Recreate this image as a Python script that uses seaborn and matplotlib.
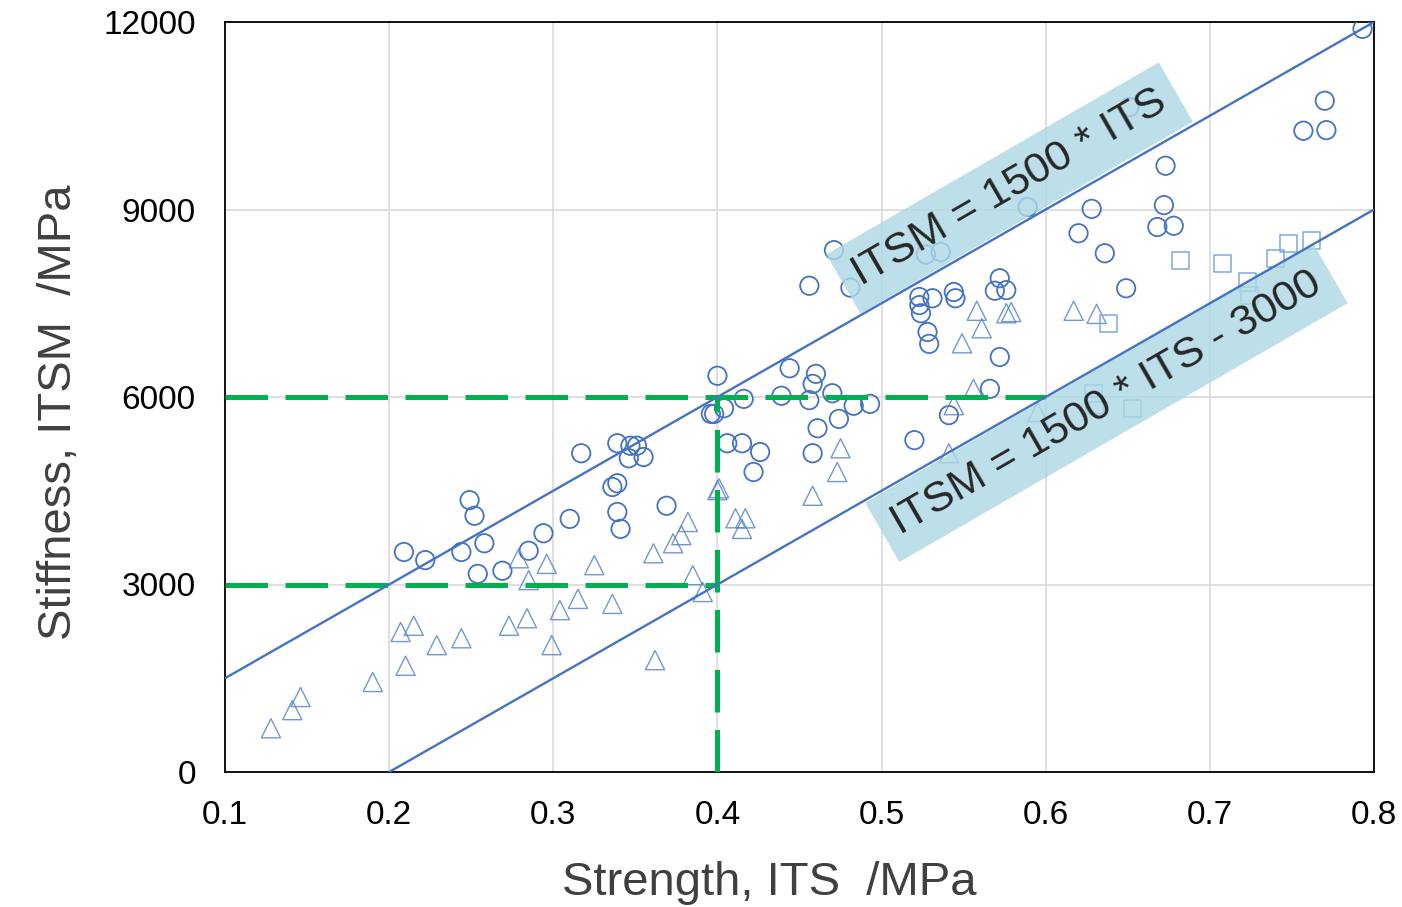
import numpy as np
import pandas as pd
import matplotlib
matplotlib.use("Agg")
import matplotlib.pyplot as plt
import seaborn as sns

# ---- data ----
circle_x = [0.209, 0.222, 0.244, 0.249, 0.252, 0.254, 0.258, 0.269, 0.285, 0.294,
            0.310, 0.317, 0.336, 0.339, 0.339, 0.339, 0.341, 0.346, 0.347, 0.351,
            0.355, 0.369, 0.396, 0.398, 0.400, 0.404, 0.406, 0.415, 0.416, 0.422,
            0.426, 0.439, 0.444, 0.456, 0.456, 0.458, 0.458, 0.460, 0.461, 0.470,
            0.471, 0.474, 0.481, 0.483, 0.493, 0.520, 0.523, 0.523, 0.524, 0.527,
            0.528, 0.529, 0.531, 0.536, 0.541, 0.544, 0.545, 0.566, 0.569, 0.572,
            0.572, 0.576, 0.589, 0.620, 0.628, 0.636, 0.649, 0.651, 0.668, 0.672,
            0.673, 0.678, 0.757, 0.770, 0.771, 0.793]
circle_y = [3520, 3390, 3520, 4350, 4100, 3170, 3660, 3220, 3540, 3820,
            4050, 5100, 4560, 4620, 4160, 5260, 3890, 5020, 5220, 5220,
            5040, 4260, 5730, 5730, 6340, 5820, 5260, 5260, 5970, 4800,
            5120, 6020, 6460, 7780, 5950, 6210, 5100, 6370, 5500, 6060,
            8350, 5650, 7750, 5860, 5890, 5310, 7600, 7470, 7340, 8280,
            7040, 6850, 7580, 8320, 5710, 7680, 7580, 6130, 7700, 7900,
            6640, 7710, 9040, 8620, 9010, 8300, 7740, 10640, 8720, 9070,
            9700, 8740, 10260, 10740, 10270, 11890]

tri_x = [0.128, 0.141, 0.146, 0.190, 0.207, 0.215, 0.210, 0.229, 0.244, 0.273,
         0.284, 0.299, 0.304, 0.315, 0.336, 0.279, 0.296, 0.285, 0.325, 0.361,
         0.373, 0.378, 0.382, 0.385, 0.391, 0.362, 0.400, 0.401, 0.411, 0.417,
         0.415, 0.458, 0.473, 0.475, 0.558, 0.561, 0.549, 0.576, 0.579, 0.617,
         0.631, 0.556, 0.544, 0.595, 0.541]
tri_y = [700, 990, 1200, 1440, 2240, 2340, 1700, 2030, 2140, 2340,
         2460, 2030, 2590, 2770, 2690, 3420, 3330, 3070, 3310, 3500,
         3660, 3790, 4000, 3150, 2880, 1790, 4510, 4540, 4060, 4060,
         3890, 4420, 4800, 5180, 7380, 7100, 6860, 7340, 7360, 7380,
         7330, 6130, 5870, 5760, 5100]

sq_x = [0.682, 0.708, 0.740, 0.748, 0.762, 0.723, 0.724, 0.638, 0.629, 0.630, 0.653]
sq_y = [8180, 8140, 8220, 8460, 8500, 7840, 7620, 7180, 6060, 5870, 5820]

upper_x = [0.1, 0.8]
upper_y = [1500, 12000]
lower_x = [0.2, 0.8]
lower_y = [0, 9000]

guide_h6_x = [0.1, 0.6]
guide_h6_y = [6000, 6000]
guide_h3_x = [0.1, 0.4]
guide_h3_y = [3000, 3000]
guide_v_x = [0.4, 0.4]
guide_v_y = [0, 6000]

label_upper = 'ITSM = 1500 * ITS'
label_lower = 'ITSM = 1500 * ITS - 3000'

x_ticks = [0.1, 0.2, 0.3, 0.4, 0.5, 0.6, 0.7, 0.8]
y_ticks = [0, 3000, 6000, 9000, 12000]

# ---- style ----
sns.set_theme(style="whitegrid")
plt.rcParams['font.family'] = ['Liberation Sans', 'DejaVu Sans']

fig = plt.figure(figsize=(14.02, 9.07), dpi=100)
ax = fig.add_axes([225/1402, 1-772/907, (1374-225)/1402, (772-22)/907])

blue = '#4472C4'
sns.scatterplot(x=circle_x, y=circle_y, ax=ax, marker='o', s=175,
                facecolor='none', edgecolor=blue, linewidth=1.3, zorder=3)
sns.scatterplot(x=tri_x, y=tri_y, ax=ax, marker='^', s=190,
                facecolor='none', edgecolor='#5B86C8', linewidth=1.0, alpha=0.85, zorder=3)
sns.scatterplot(x=sq_x, y=sq_y, ax=ax, marker='s', s=150,
                facecolor='none', edgecolor='#7AAADC', linewidth=1.1, zorder=3)

sns.lineplot(x=upper_x, y=upper_y, ax=ax, color=blue, linewidth=1.7,
             estimator=None, sort=False, zorder=6)
sns.lineplot(x=lower_x, y=lower_y, ax=ax, color=blue, linewidth=1.7,
             estimator=None, sort=False, zorder=6)

green = '#00B050'
for gx, gy in [(guide_h6_x, guide_h6_y), (guide_h3_x, guide_h3_y), (guide_v_x, guide_v_y)]:
    sns.lineplot(x=gx, y=gy, ax=ax, color=green, linewidth=3.6,
                 estimator=None, sort=False, zorder=4)
    ax.lines[-1].set_dashes((8.5, 3.5))

box = dict(boxstyle='square,pad=0.33', fc='#ADD8E6', ec='none', alpha=0.82)
ax.text(0.578, 9344, label_upper, rotation=30, rotation_mode='anchor',
        ha='center', va='center', fontsize=31, color='#262626', bbox=box, zorder=5)
ax.text(0.637, 5904, label_lower, rotation=30, rotation_mode='anchor',
        ha='center', va='center', fontsize=31, color='#262626', bbox=box, zorder=5)

ax.set_xlim(0.1, 0.8)
ax.set_ylim(0, 12000)
ax.set_xticks(x_ticks)
ax.set_xticklabels([f'{t:g}' for t in x_ticks])
ax.set_yticks(y_ticks)
ax.set_yticklabels([str(t) for t in y_ticks])
ax.tick_params(axis='both', labelsize=24, colors='black', length=0)
ax.tick_params(axis='x', pad=20)
ax.tick_params(axis='y', pad=21)
ax.grid(True, color='#D9D9D9', linewidth=1.2)
ax.set_facecolor('white')
for sp in ax.spines.values():
    sp.set_visible(True)
    sp.set_color('black')
    sp.set_linewidth(1.3)

ax.set_xlabel('Strength, ITS  /MPa', fontsize=34, color='#404040', labelpad=22)
ax.set_ylabel('Stiffness, ITSM  /MPa', fontsize=34, color='#404040', labelpad=16)
ax.xaxis.label.set_x(0.474)
ax.yaxis.label.set_y(0.479)

fig.savefig('out.png', dpi=100, facecolor='white')
